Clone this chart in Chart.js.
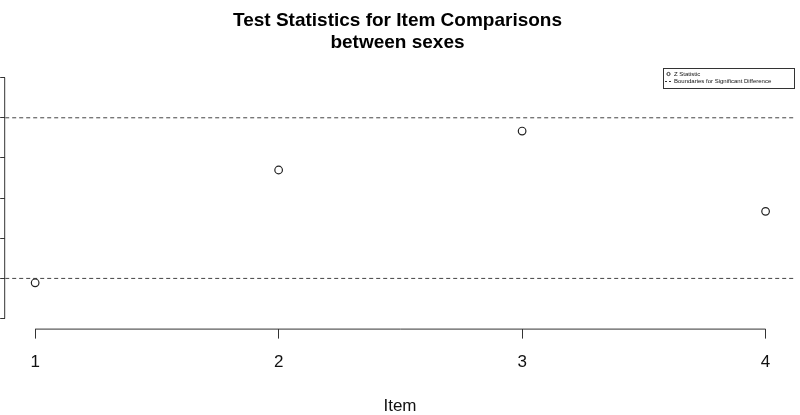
<!DOCTYPE html>
<html>
<head>
<meta charset="utf-8">
<script src="https://cdn.jsdelivr.net/npm/chart.js"></script>
<style>
  html, body { margin: 0; padding: 0; background: #fff; }
  #wrap { width: 800px; height: 415px; }
</style>
</head>
<body>
<div id="wrap"><canvas id="zChart"></canvas></div>
<script>
// Data
const items = [1, 2, 3, 4];
const zStats = [-2.11, 0.70, 1.67, -0.33];
const bounds = [-2, 2];
const yTicks = [-3, -2, -1, 0, 1, 2, 3];

const xMin = 0.877, xMax = 4.12;
const yMin = -3.25, yMax = 3.25;
const font = '"Liberation Sans", Arial, sans-serif';

// R style axes: line only from first to last tick
const rAxes = {
    id: 'rAxes',
    afterDraw(chart) {
        const ctx = chart.ctx;
        const xs = chart.scales.x, ys = chart.scales.y;
        const area = chart.chartArea;
        ctx.save();
        ctx.strokeStyle = '#333';
        ctx.lineWidth = 1;
        ctx.beginPath();
        ctx.moveTo(xs.getPixelForValue(items[0]), area.bottom + 0.5);
        ctx.lineTo(xs.getPixelForValue(items[items.length - 1]), area.bottom + 0.5);
        ctx.moveTo(area.left - 0.5, ys.getPixelForValue(yTicks[0]));
        ctx.lineTo(area.left - 0.5, ys.getPixelForValue(yTicks[yTicks.length - 1]));
        ctx.stroke();

        // legend box
        const bx = 663, by = 68, bw = 131, bh = 20;
        ctx.fillStyle = '#fff';
        ctx.fillRect(bx, by, bw, bh);
        ctx.strokeRect(bx + 0.5, by + 0.5, bw, bh);
        ctx.beginPath();
        ctx.arc(668.5, 74, 1.6, 0, Math.PI * 2);
        ctx.stroke();
        ctx.setLineDash([2, 2]);
        ctx.beginPath();
        ctx.moveTo(665, 81.5);
        ctx.lineTo(672, 81.5);
        ctx.stroke();
        ctx.setLineDash([]);
        ctx.fillStyle = '#111';
        ctx.font = '6px ' + font;
        ctx.textBaseline = 'middle';
        ctx.fillText('Z Statistic', 674, 74);
        ctx.fillText('Boundaries for Significant Difference', 674, 81.5);
        ctx.restore();
    }
};

const boundSets = bounds.map(b => ({
    type: 'line',
    data: [{x: xMin, y: b}, {x: xMax, y: b}],
    borderColor: '#444',
    borderWidth: 1,
    borderDash: [4, 3],
    pointRadius: 0,
    fill: false
}));

new Chart(document.getElementById('zChart'), {
    type: 'scatter',
    data: {
        datasets: [
            {
                label: 'Z Statistic',
                data: items.map((it, i) => ({x: it, y: zStats[i]})),
                pointStyle: 'circle',
                pointRadius: 3.8,
                pointBorderWidth: 1.2,
                pointBorderColor: '#222',
                pointBackgroundColor: 'rgba(0,0,0,0)'
            },
            ...boundSets
        ]
    },
    options: {
        responsive: true,
        maintainAspectRatio: false,
        animation: false,
        layout: { padding: { left: 0, right: 5, top: 0, bottom: 0 } },
        plugins: {
            legend: { display: false },
            tooltip: { enabled: false },
            title: {
                display: true,
                text: ['Test Statistics for Item Comparisons', 'between sexes'],
                color: '#000',
                font: { family: font, size: 19, weight: 'bold', lineHeight: 1.2 },
                padding: { top: 9, bottom: 13 }
            }
        },
        scales: {
            x: {
                type: 'linear',
                min: xMin,
                max: xMax,
                afterBuildTicks: axis => { axis.ticks = items.map(v => ({value: v})); },
                border: { display: false },
                grid: { drawOnChartArea: false, drawTicks: true, tickLength: 10, color: '#333' },
                ticks: { color: '#111', padding: 14, font: { family: font, size: 17 } },
                title: {
                    display: true,
                    text: 'Item',
                    color: '#111',
                    font: { family: font, size: 17, lineHeight: 1.0 },
                    padding: { top: 11, bottom: 0 }
                }
            },
            y: {
                type: 'linear',
                min: yMin,
                max: yMax,
                afterBuildTicks: axis => { axis.ticks = yTicks.map(v => ({value: v})); },
                border: { display: false },
                grid: { drawOnChartArea: false, drawTicks: true, tickLength: 5, color: '#333' },
                ticks: { display: false }
            }
        }
    },
    plugins: [rAxes]
});
</script>
</body>
</html>
